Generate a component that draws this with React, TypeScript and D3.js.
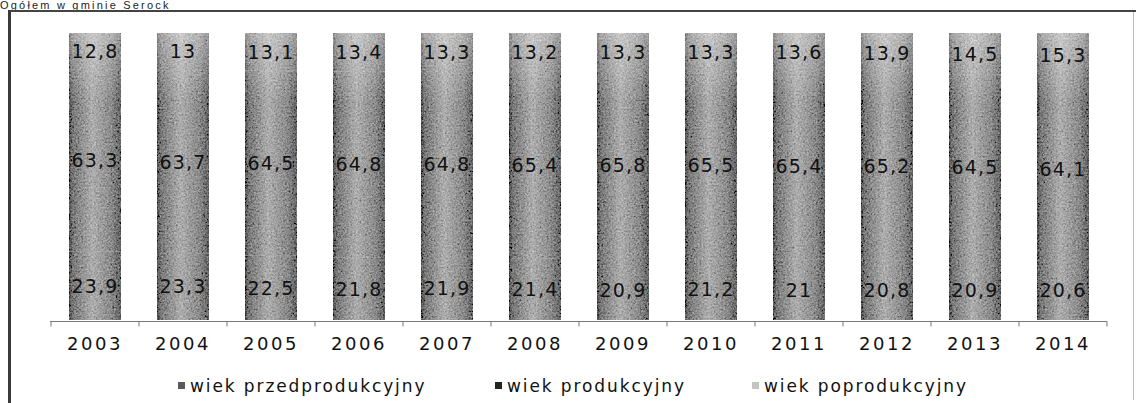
import React from "react";
import * as d3 from "d3";

// Population structure by economic age group, per year (percent of total)
const years = ["2003", "2004", "2005", "2006", "2007", "2008", "2009", "2010", "2011", "2012", "2013", "2014"];
const przedprodukcyjny = [23.9, 23.3, 22.5, 21.8, 21.9, 21.4, 20.9, 21.2, 21, 20.8, 20.9, 20.6];
const produkcyjny = [63.3, 63.7, 64.5, 64.8, 64.8, 65.4, 65.8, 65.5, 65.4, 65.2, 64.5, 64.1];
const poprodukcyjny = [12.8, 13, 13.1, 13.4, 13.3, 13.2, 13.3, 13.3, 13.6, 13.9, 14.5, 15.3];
const seriesNames = ["wiek przedprodukcyjny", "wiek produkcyjny", "wiek poprodukcyjny"];
const legendColors = ["#5a5a5a", "#222222", "#c4c4c4"];

const W = 1136;
const H = 403;
const FONT = "'DejaVu Sans', Verdana, sans-serif";

type Row = { year: string; [k: string]: number | string };

export default function App() {
  const rows: Row[] = years.map((year, i) => ({
    year,
    [seriesNames[0]]: przedprodukcyjny[i],
    [seriesNames[1]]: produkcyjny[i],
    [seriesNames[2]]: poprodukcyjny[i],
  }));

  const stacked = d3
    .stack<Row>()
    .keys(seriesNames)
    .value((d, k) => d[k] as number)
    .offset(d3.stackOffsetExpand)(rows);

  const x = d3
    .scaleBand<string>()
    .domain(years)
    .range([51, 1107])
    .paddingInner(0.41)
    .paddingOuter(0.205);
  const y = d3.scaleLinear().domain([0, 1]).range([320, 33]);

  const axisY = 321.5;
  const bw = x.bandwidth();
  const fmt = (v: number) => String(v).replace(".", ",");
  const boundaries = d3.range(years.length + 1).map((i) => 51 + i * x.step());

  const legendX = [178, 495, 752];

  return (
    <svg
      width={W}
      height={H}
      style={{ position: "absolute", left: 0, top: 0, background: "#fff" }}
      fontFamily={FONT}
    >
      <defs>
        <linearGradient id="cyl" x1="0" x2="1" y1="0" y2="0">
          <stop offset="0%" stopColor="#4a4a4a" />
          <stop offset="7%" stopColor="#787878" />
          <stop offset="45%" stopColor="#aeaeae" />
          <stop offset="82%" stopColor="#8a8a8a" />
          <stop offset="100%" stopColor="#626262" />
        </linearGradient>
        <linearGradient id="topShine" x1="0" x2="0" y1="0" y2="1">
          <stop offset="0%" stopColor="#fff" stopOpacity="0.35" />
          <stop offset="100%" stopColor="#fff" stopOpacity="0" />
        </linearGradient>
        <filter id="grain" x="0" y="0" width="1" height="1">
          <feTurbulence type="fractalNoise" baseFrequency="0.55" numOctaves="3" seed="7" result="n" />
          <feColorMatrix
            in="n"
            type="matrix"
            values="0.33 0.33 0.33 0 0  0.33 0.33 0.33 0 0  0.33 0.33 0.33 0 0  0 0 0 0 1"
            result="g"
          />
          <feComposite in="g" in2="SourceGraphic" operator="arithmetic" k1="0" k2="0.9" k3="1" k4="-0.45" result="m" />
          <feComposite in="m" in2="SourceGraphic" operator="in" />
        </filter>
      </defs>

      {/* title above the frame */}
      <text x={0} y={8.5} fontFamily="Arial, 'Liberation Sans', sans-serif" fontSize={11} letterSpacing={2.2} fill="#222">
        Ogółem w gminie Serock
      </text>

      {/* frame */}
      <line x1={9.5} x2={9.5} y1={10} y2={H} stroke="#3a3a3a" strokeWidth={3} />
      <line x1={10} x2={W} y1={11} y2={11} stroke="#444" strokeWidth={2} />
      <line x1={1133.5} x2={1133.5} y1={12} y2={400} stroke="#bbb" strokeWidth={1} />

      {/* bars */}
      <g filter="url(#grain)">
        {years.map((yr) => {
          const top = y(stacked[2].find((d) => d.data.year === yr)![1]);
          return (
            <g key={yr}>
              {stacked.map((s) => {
                const d = s.find((p) => p.data.year === yr)!;
                return (
                  <rect
                    key={s.key}
                    x={x(yr)}
                    y={y(d[1])}
                    width={bw}
                    height={y(d[0]) - y(d[1])}
                    fill="url(#cyl)"
                  />
                );
              })}
              <rect x={x(yr)} y={top} width={bw} height={70} fill="url(#topShine)" />
            </g>
          );
        })}
      </g>

      {/* value labels at segment centres */}
      {stacked.map((s) =>
        s.map((d) => (
          <text
            key={s.key + d.data.year}
            x={(x(d.data.year as string) as number) + bw / 2}
            y={(y(d[0]) + y(d[1])) / 2}
            dy="0.36em"
            textAnchor="middle"
            fontSize={19}
            letterSpacing={1.2}
            fill="#111"
          >
            {fmt(d.data[s.key] as number)}
          </text>
        ))
      )}

      {/* category axis */}
      <line x1={50} x2={1107} y1={axisY} y2={axisY} stroke="#777" strokeWidth={1} />
      {boundaries.map((b, i) => (
        <line key={i} x1={b} x2={b} y1={axisY} y2={axisY + 5} stroke="#777" strokeWidth={1} />
      ))}
      {years.map((yr) => (
        <text
          key={yr}
          x={(x(yr) as number) + bw / 2}
          y={350}
          textAnchor="middle"
          fontSize={18}
          letterSpacing={2.5}
          fill="#111"
        >
          {yr}
        </text>
      ))}

      {/* legend */}
      {seriesNames.map((name, i) => (
        <g key={name}>
          <rect x={legendX[i]} y={382} width={7} height={7} fill={legendColors[i]} />
          <text x={legendX[i] + 12} y={392} fontSize={17} letterSpacing={1.9} fill="#111">
            {name}
          </text>
        </g>
      ))}
    </svg>
  );
}
